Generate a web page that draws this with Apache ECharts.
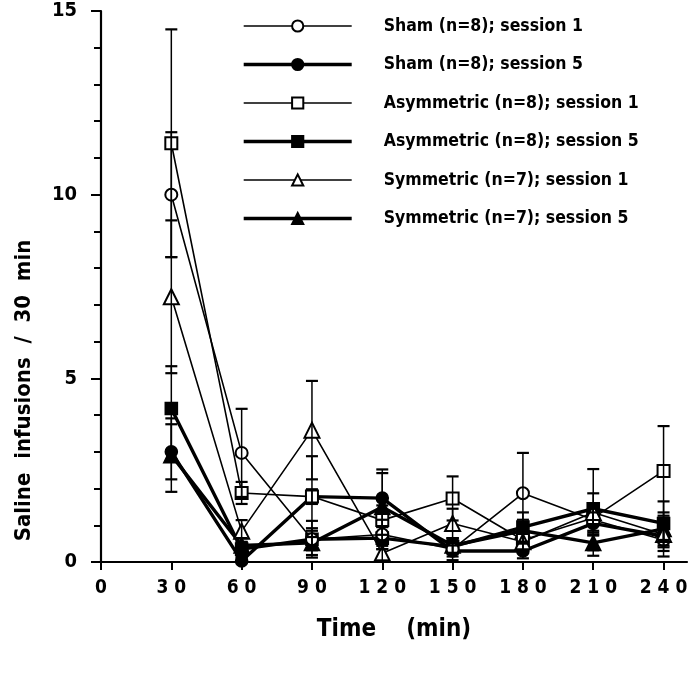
<!DOCTYPE html>
<html>
<head>
<meta charset="utf-8">
<script src="https://cdn.jsdelivr.net/npm/echarts@6/dist/echarts.min.js"></script>
<style>
html,body{margin:0;padding:0;background:#fff;}
#chart{width:691px;height:675px;}
</style>
</head>
<body>
<div id="chart"></div>
<script>
// ---- data ----
const timePoints = [30, 60, 90, 120, 150, 180, 210, 240];
const xTicks = [0, 30, 60, 90, 120, 150, 180, 210, 240];
const yTicks = [0, 5, 10, 15];

const seriesNames = [
  'Sham (n=8); session 1',
  'Sham (n=8); session 5',
  'Asymmetric (n=8); session 1',
  'Asymmetric (n=8); session 5',
  'Symmetric (n=7); session 1',
  'Symmetric (n=7); session 5'
];

const shamS1 = [10.0, 2.97, 0.62, 0.75, 0.35, 1.87, 1.15, 0.6];
const shamS1Err = [1.7, 1.2, 0.5, 0.4, 0.3, 1.1, 0.3, 0.3];
const shamS5 = [3.0, 0.03, 1.78, 1.74, 0.3, 0.3, 1.05, 0.7];
const shamS5Err = [0.75, 0.1, 0.2, 0.78, 0.15, 0.2, 0.3, 0.3];
const asymS1 = [11.4, 1.88, 1.78, 1.14, 1.73, 0.6, 1.2, 2.48];
const asymS1Err = [3.1, 0.3, 1.1, 0.4, 0.6, 0.3, 0.4, 1.22];
const asymS5 = [4.18, 0.35, 0.62, 0.65, 0.42, 0.95, 1.45, 1.05];
const asymS5Err = [1.15, 0.2, 0.3, 0.3, 0.2, 0.4, 0.42, 0.6];
const symS1 = [7.22, 0.84, 3.59, 0.24, 1.05, 0.55, 1.35, 0.75];
const symS1Err = [2.08, 0.3, 1.34, 0.2, 0.4, 0.3, 1.18, 0.6];
const symS5 = [2.91, 0.45, 0.52, 1.5, 0.45, 0.85, 0.52, 0.9];
const symS5Err = [1.0, 0.2, 0.33, 0.92, 0.2, 0.3, 0.2, 0.3];

// ---- styling ----
const FONT = '"Liberation Sans Narrow", "DejaVu Sans Condensed", "Roboto", sans-serif';
const thin = 1.6, thick = 3.4;

function spaced(v) { return String(v).split('').join(' '); }

function lineSeries(name, vals, symbol, size, lw) {
  return {
    name: name, type: 'line', z: 2,
    data: timePoints.map((t, i) => [t, vals[i]]),
    symbol: symbol, symbolSize: size,
    showAllSymbol: true,
    lineStyle: { color: '#000', width: lw },
    itemStyle: { color: '#000', borderColor: '#000', borderWidth: 1.6 },
    emphasis: { disabled: true },
    animation: false
  };
}

function errSeries(name, vals, errs) {
  return {
    name: name + ' err', type: 'custom', z: 3,
    data: timePoints.map((t, i) => [t, vals[i], errs[i]]),
    animation: false,
    silent: true,
    renderItem: function (params, api) {
      const x = api.value(0), y = api.value(1), e = api.value(2);
      const top = api.coord([x, y + e]);
      const bot = api.coord([x, Math.max(0, y - e)]);
      const hw = 6;
      return {
        type: 'group',
        children: [
          { type: 'line', shape: { x1: top[0], y1: top[1], x2: bot[0], y2: bot[1] }, style: { stroke: '#000', lineWidth: 1.5 } },
          { type: 'line', shape: { x1: top[0] - hw, y1: top[1], x2: top[0] + hw, y2: top[1] }, style: { stroke: '#000', lineWidth: 2.2 } },
          { type: 'line', shape: { x1: bot[0] - hw, y1: bot[1], x2: bot[0] + hw, y2: bot[1] }, style: { stroke: '#000', lineWidth: 2.2 } }
        ]
      };
    }
  };
}

const legendWidths = [thin, thick, thin, thick, thin, thick];

const chart = echarts.init(document.getElementById('chart'), null, { renderer: 'canvas' });

const option = {
  backgroundColor: '#fff',
  animation: false,
  grid: { left: 101, right: 4, top: 11, bottom: 113, containLabel: false },
  legend: {
    data: seriesNames.map((n, i) => ({ name: n, lineStyle: { width: legendWidths[i], color: '#000' } })),
    orient: 'vertical',
    left: 237, top: 12,
    padding: 5,
    itemWidth: 108, itemHeight: 14, itemGap: 20.5,
    selectedMode: false,
    textStyle: { fontFamily: FONT, fontSize: 17.5, lineHeight: 14, fontWeight: 'bold', color: '#000', padding: [0, 0, 0, 27] }
  },
  xAxis: {
    type: 'value', min: 0, max: 250, interval: 30,
    name: 'Time    (min)', nameLocation: 'middle', nameGap: 56,
    nameTextStyle: { fontFamily: FONT, fontSize: 24, fontWeight: 'bold', color: '#000' },
    axisLine: { show: true, onZero: false, lineStyle: { color: '#000', width: 2.2 } },
    axisTick: { show: true, inside: false, length: 8, lineStyle: { color: '#000', width: 2 }, customValues: xTicks },
    axisLabel: { fontFamily: FONT, fontSize: 19, fontWeight: 'bold', color: '#000', margin: 17, customValues: xTicks, formatter: spaced },
    splitLine: { show: false }
  },
  yAxis: {
    type: 'value', min: 0, max: 15, interval: 5,
    name: 'Saline  infusions  /  30  min', nameLocation: 'middle', nameGap: 66, nameRotate: 90,
    nameTextStyle: { fontFamily: FONT, fontSize: 22, fontWeight: 'bold', color: '#000', padding: [0, 208, 0, 0] },
    axisLine: { show: true, lineStyle: { color: '#000', width: 2.2 } },
    axisTick: { show: true, inside: false, length: 10, lineStyle: { color: '#000', width: 2 }, customValues: yTicks },
    minorTick: { show: true, splitNumber: 5, length: 7, lineStyle: { color: '#000', width: 2 } },
    axisLabel: { fontFamily: FONT, fontSize: 20, fontWeight: 'bold', color: '#000', margin: 24, customValues: yTicks },
    splitLine: { show: false }
  },
  series: [
    lineSeries(seriesNames[1], shamS5, 'circle', 12, thick),
    lineSeries(seriesNames[3], asymS5, 'rect', 12, thick),
    lineSeries(seriesNames[5], symS5, 'triangle', 15, thick),
    lineSeries(seriesNames[0], shamS1, 'emptyCircle', 12, thin),
    lineSeries(seriesNames[2], asymS1, 'emptyRect', 12, thin),
    lineSeries(seriesNames[4], symS1, 'emptyTriangle', 15, thin),
    errSeries('shamS5', shamS5, shamS5Err),
    errSeries('asymS5', asymS5, asymS5Err),
    errSeries('symS5', symS5, symS5Err),
    errSeries('shamS1', shamS1, shamS1Err),
    errSeries('asymS1', asymS1, asymS1Err),
    errSeries('symS1', symS1, symS1Err)
  ]
};
chart.setOption(option);
</script>
</body>
</html>
